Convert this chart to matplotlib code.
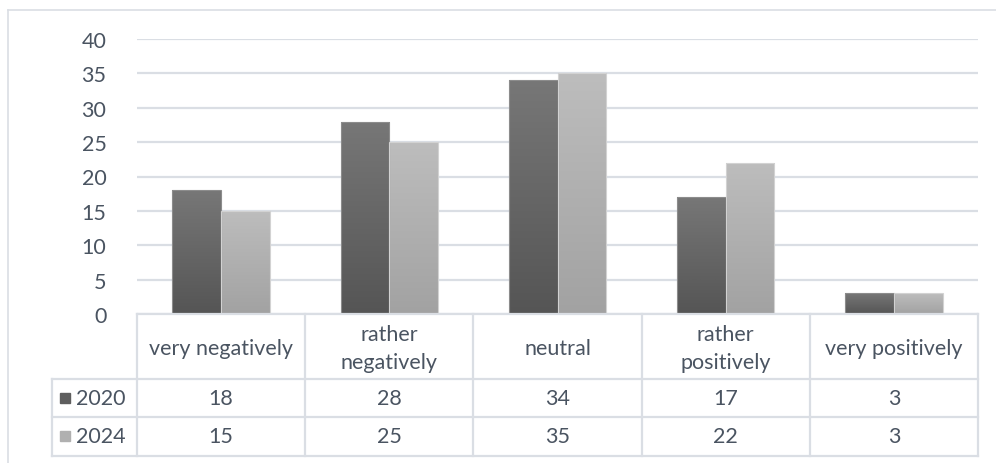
import numpy as np
import matplotlib
matplotlib.use("Agg")
import matplotlib.pyplot as plt
from matplotlib.colors import LinearSegmentedColormap
from matplotlib.lines import Line2D

categories = ["very negatively", "rather\nnegatively", "neutral", "rather\npositively", "very positively"]
series_names = ["2020", "2024"]
values_2020 = [18, 28, 34, 17, 3]
values_2024 = [15, 25, 35, 22, 3]
yticks = [0, 5, 10, 15, 20, 25, 30, 35, 40]

TXT = "#4a5461"
GRID = "#dadee4"
FS = 15.5
plt.rcParams["font.family"] = ["Lato", "DejaVu Sans"]

W, H = 996, 464
fig = plt.figure(figsize=(W / 100, H / 100), dpi=100)

def px_rect(x0, y0, x1, y1):
    # pixel box (top-left origin) -> figure fraction
    return [x0 / W, 1 - y1 / H, (x1 - x0) / W, (y1 - y0) / H]

# outer chart frame (cropped on right/bottom)
fig.add_artist(Line2D([8 / W, 8 / W], [0, 1 - 11 / H], color=GRID, lw=1.2))
fig.add_artist(Line2D([8 / W, 1], [1 - 11 / H, 1 - 11 / H], color=GRID, lw=1.2))

ax = fig.add_axes(px_rect(137, 40, 978, 315))
x = np.arange(len(categories))
bw = 0.29

grads = [("#555555", "#777777", "#8c8c8c"), ("#a2a2a2", "#bdbdbd", "#d2d2d2")]
for k, vals in enumerate([values_2020, values_2024]):
    bottom_c, top_c, edge_c = grads[k]
    cmap = LinearSegmentedColormap.from_list("g%d" % k, [bottom_c, top_c])
    offs = -bw / 2 if k == 0 else bw / 2
    bars = ax.bar(x + offs, vals, width=bw, color="none", edgecolor=edge_c, lw=0.8, zorder=3)
    for b in bars:
        x0, w, h = b.get_x(), b.get_width(), b.get_height()
        im = ax.imshow(np.linspace(0, 1, 256).reshape(-1, 1), cmap=cmap, origin="lower",
                       extent=[x0, x0 + w, 0, h], aspect="auto", zorder=2)
        im.set_clip_path(b)

ax.set_xlim(-0.5, 4.5)
ax.set_ylim(0, 40)
ax.set_yticks(yticks)
ax.set_xticks([])
ax.yaxis.grid(True, color=GRID, lw=1.6)
ax.set_axisbelow(True)
for s in ax.spines.values():
    s.set_visible(False)
ax.tick_params(axis="y", length=0, pad=22, labelsize=FS, labelcolor=TXT)

# data table below the plot
tb = fig.add_axes(px_rect(52, 315, 978, 457))
lc = -0.5 - 85 / 168.2
tb.set_xlim(lc, 4.5)
tb.set_ylim(142, 0)
tb.axis("off")
lk = dict(color=GRID, lw=1.6, clip_on=False)
tb.plot([-0.5, 4.5], [0, 0], **lk)
tb.plot([lc, 4.5], [65, 65], **lk)
tb.plot([lc, 4.5], [103, 103], **lk)
tb.plot([lc, 4.5], [141.5, 141.5], **lk)
tb.plot([lc, lc], [65, 141.5], **lk)
for xv in np.arange(-0.5, 5.0, 1.0):
    tb.plot([xv, xv], [0, 141.5], **lk)

for i, c in enumerate(categories):
    tb.text(i, 34, c, ha="center", va="center", fontsize=FS, color=TXT, linespacing=1.5)
rows = [(values_2020, 84, "#5e5e5e"), (values_2024, 122, "#b0b0b0")]
for (vals, yy, mc), name in zip(rows, series_names):
    for i, v in enumerate(vals):
        tb.text(i, yy, str(v), ha="center", va="center", fontsize=FS, color=TXT)
    tb.plot([lc + 0.075], [yy], marker="s", ms=7, color=mc, clip_on=False)
    tb.text(lc + 0.14, yy, name, ha="left", va="center", fontsize=FS, color=TXT)

fig.savefig("out.png", dpi=100)
